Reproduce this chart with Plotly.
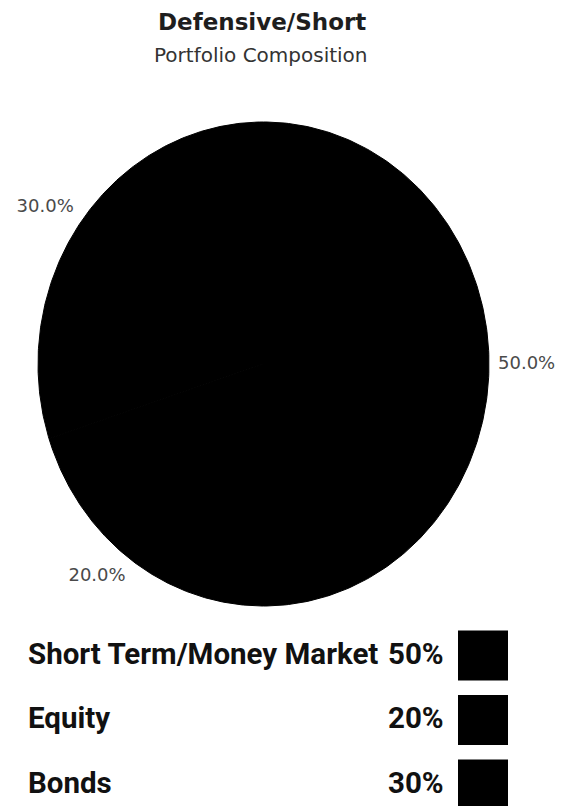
import numpy as np
import plotly.graph_objects as go

# Portfolio allocation (percent of holdings)
categories = ["Short Term/Money Market", "Equity", "Bonds"]
weights = [50, 20, 30]
slice_colors = ["#000000", "#000000", "#000000"]

title_text = "Defensive/Short"
subtitle_text = "Portfolio Composition"

W, H = 562, 806


def px_x(x):
    return x / W


def px_y(y):
    return 1 - y / H


# Pie geometry in pixels: centre and semi-axes (the disc is slightly taller than wide)
cx, cy, rx, ry = 263.5, 364, 225.5, 242

fig = go.Figure()

# Wedges drawn clockwise from 12 o'clock in unit-radius data space
shares = np.array(weights, dtype=float) / sum(weights)
edges = np.concatenate([[0.0], np.cumsum(shares)]) * 2 * np.pi
for i, name in enumerate(categories):
    t = np.linspace(edges[i], edges[i + 1], 200)
    xs = np.concatenate([[0.0], np.sin(t), [0.0]])
    ys = np.concatenate([[0.0], np.cos(t), [0.0]])
    fig.add_trace(go.Scatter(
        x=xs, y=ys, mode="lines", fill="toself",
        fillcolor=slice_colors[i], line=dict(color=slice_colors[i], width=1),
        name=name, hoverinfo="name", showlegend=False,
    ))

# Outside value labels at each wedge's mid-angle
mids = (edges[:-1] + edges[1:]) / 2
lab_r = 1.04


def text_pos(a):
    s, c = np.sin(a), np.cos(a)
    v = "top" if c > 0.1 else ("bottom" if c < -0.1 else "middle")
    h = "right" if s > 0.1 else ("left" if s < -0.1 else "center")
    return f"{v} {h}"


fig.add_trace(go.Scatter(
    x=lab_r * np.sin(mids), y=lab_r * np.cos(mids), mode="text",
    text=[f"{w:.1f}%" for w in weights],
    textposition=[text_pos(a) for a in mids],
    textfont=dict(family="DejaVu Sans", size=18, color="#4a4a4a"),
    hoverinfo="skip", showlegend=False,
))

annotations = [
    dict(text=f"<b>{title_text}</b>", x=0.5 * (154 + 370) / W, y=px_y(22),
         xref="paper", yref="paper", xanchor="center", yanchor="middle", showarrow=False,
         font=dict(family="DejaVu Sans", size=23, color="#1e1e1e")),
    dict(text=subtitle_text, x=0.5 * (154 + 368) / W, y=px_y(55),
         xref="paper", yref="paper", xanchor="center", yanchor="middle", showarrow=False,
         font=dict(family="DejaVu Sans", size=20, color="#333333")),
]

shapes = []
row0, pitch = 655.5, 64.5
legend_font = dict(family="Roboto", size=29.5, color="#111111", weight="bold")
for i, (name, w) in enumerate(zip(categories, weights)):
    yc = row0 + i * pitch
    annotations.append(dict(text=name, x=px_x(26), y=px_y(yc - 2), xref="paper", yref="paper",
                            xanchor="left", yanchor="middle", showarrow=False, font=legend_font))
    annotations.append(dict(text=f"{w}%", x=px_x(446), y=px_y(yc - 2), xref="paper", yref="paper",
                            xanchor="right", yanchor="middle", showarrow=False, font=legend_font))
    shapes.append(dict(type="rect", xref="paper", yref="paper",
                       x0=px_x(458), x1=px_x(508), y0=px_y(yc - 25), y1=px_y(yc + 25),
                       fillcolor=slice_colors[i], line=dict(width=0)))

# Axes ranges chosen so one data unit equals rx / ry pixels around the centre
fig.update_xaxes(range=[-cx / rx, (W - cx) / rx], visible=False, fixedrange=True)
fig.update_yaxes(range=[-(H - cy) / ry, cy / ry], visible=False, fixedrange=True)

fig.update_layout(
    width=W, height=H,
    margin=dict(l=0, r=0, t=0, b=0),
    paper_bgcolor="white", plot_bgcolor="white",
    annotations=annotations, shapes=shapes,
)

fig.write_html("out.html")
